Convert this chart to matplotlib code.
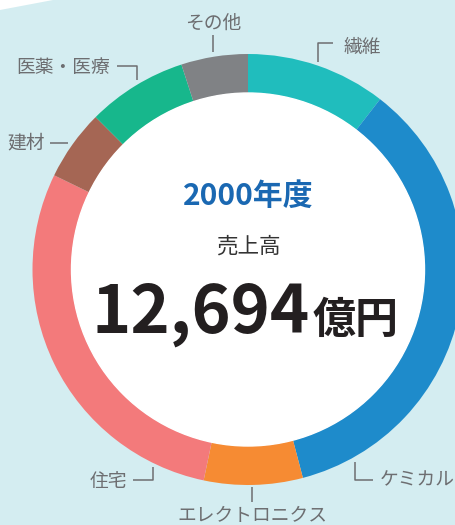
import matplotlib
matplotlib.use("Agg")
import matplotlib.pyplot as plt
from matplotlib.patches import Polygon

# 2000年度 売上高の事業別構成 (%)
segments = ["繊維", "ケミカル", "エレクトロニクス", "住宅", "建材", "医薬・医療", "その他"]
shares = [10.5, 35.4, 7.4, 28.9, 5.3, 7.5, 5.0]
colors = ["#20BDBD", "#1E8BCB", "#F68B33", "#F37A7B", "#A56654", "#17B78C", "#808285"]

year_label = "2000年度"
sales_caption = "売上高"
sales_value = "12,694"
sales_unit = "億円"

FONT = ["Noto Sans CJK JP", "DejaVu Sans"]
W, H = 456, 525
CX, CY = 248, 269.5
R_OUT, RING = 215.5, 39
LABEL_COLOR = "#6D6E71"


def fy(y):
    """image y (down) -> data y (up)"""
    return H - y


fig = plt.figure(figsize=(W / 100, H / 100), dpi=100)
ax = fig.add_axes([0, 0, 1, 1])
fig.patch.set_facecolor("#D4EDF1")

ax.pie(shares, colors=colors, startangle=90, counterclock=False,
       radius=R_OUT, center=(CX, fy(CY)),
       wedgeprops=dict(width=RING, linewidth=0))
ax.set_xlim(0, W)
ax.set_ylim(0, H)
ax.set_aspect("equal")
ax.axis("off")

# white corner at top-left
ax.add_patch(Polygon([(0, fy(0)), (53, fy(0)), (0, fy(10))],
                     closed=True, facecolor="white", edgecolor="none", zorder=0))
# white centre
ax.add_patch(plt.Circle((CX, fy(CY)), R_OUT - RING, color="white", zorder=1))

# labels and leader lines: (text, x, y, ha, leader points)
labels = [
    ("その他", 213, 23, "center", [(213, 35), (213, 52)]),
    ("繊維", 343, 47, "left", [(333, 43), (318, 43), (318, 62)]),
    ("医薬・医療", 110, 68, "right", [(117, 66), (137, 66), (137, 80)]),
    ("建材", 45, 143, "right", [(50, 143), (68, 143)]),
    ("住宅", 127, 482, "right", [(133, 480), (153, 480), (153, 467)]),
    ("エレクトロニクス", 252, 515, "center", [(252, 487), (252, 502)]),
    ("ケミカル", 380, 480, "left", [(355, 462), (355, 480), (373, 480)]),
]
for name, x, y, ha, pts in labels:
    ax.text(x, fy(y), name, ha=ha, va="center", fontsize=13.5,
            color=LABEL_COLOR, family=FONT)
    ax.plot([p[0] for p in pts], [fy(p[1]) for p in pts],
            color=LABEL_COLOR, lw=1.1, solid_capstyle="butt")

# centre texts
ax.text(CX, fy(205), year_label, ha="center", va="baseline", fontsize=21.5,
        fontweight="bold", color="#1A68B2", family=FONT, zorder=3)
ax.text(CX, fy(247), sales_caption, ha="center", va="center", fontsize=15.5,
        color="#333333", family=FONT, zorder=3)
ax.text(310, fy(333), sales_value, ha="right", va="baseline", fontsize=48,
        fontweight="bold", color="#231F20", family=FONT, zorder=3)
ax.text(313, fy(333), sales_unit, ha="left", va="baseline", fontsize=31,
        fontweight="bold", color="#231F20", family=FONT, zorder=3)

fig.savefig("out.png", dpi=100, facecolor=fig.get_facecolor())
